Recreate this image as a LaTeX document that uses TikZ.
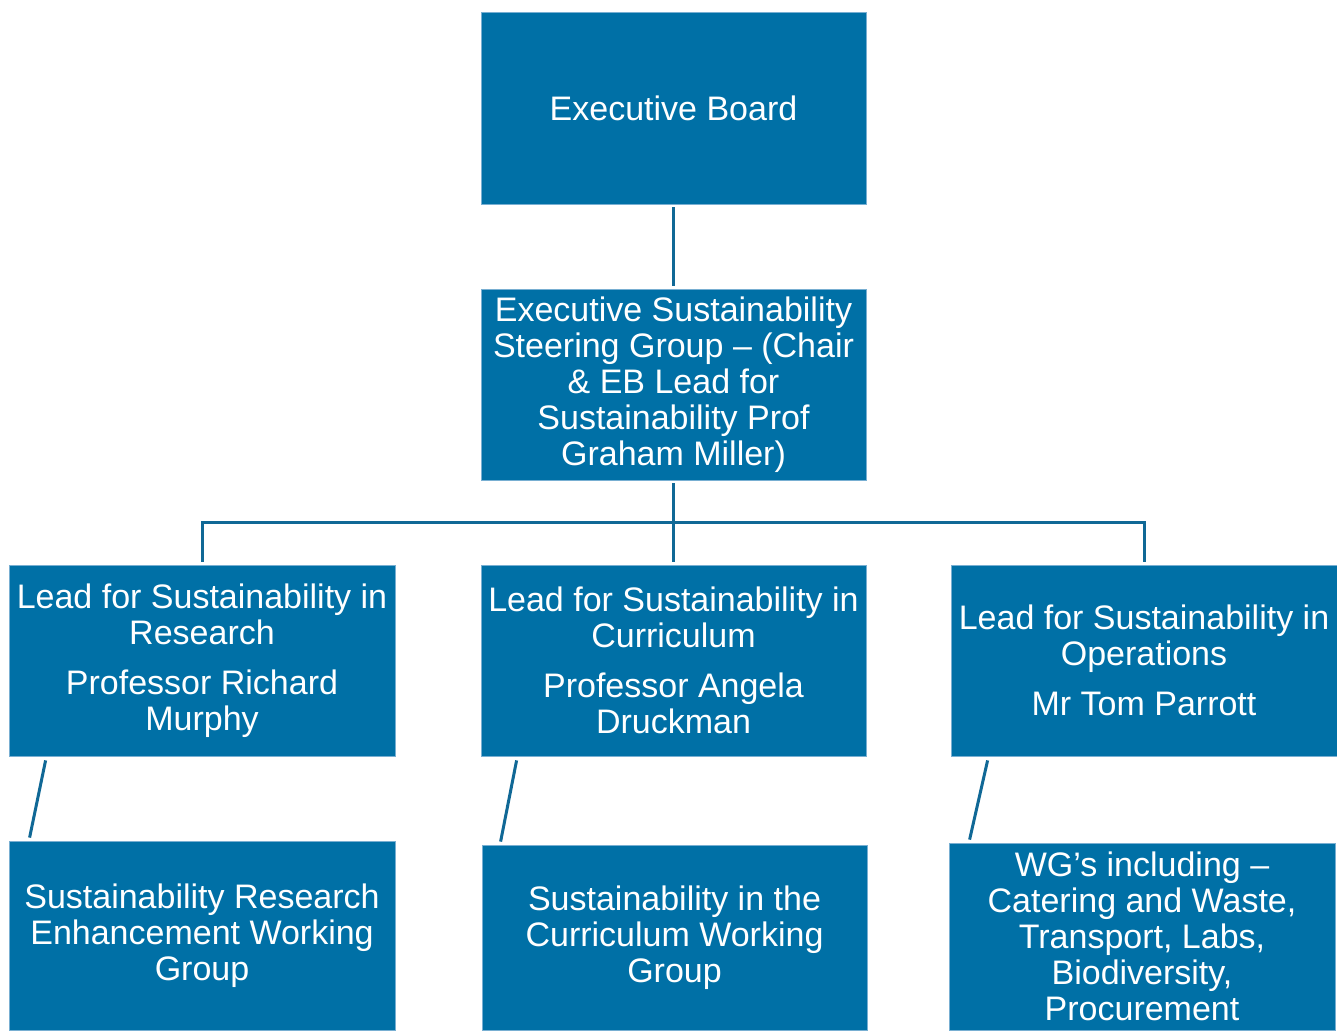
\documentclass[tikz,border=0pt]{standalone}
\usepackage{fontspec}
\setmainfont{Liberation Sans}
\definecolor{boxblue}{RGB}{0,112,166}
\definecolor{edgeblue}{RGB}{120,175,210}
\definecolor{lineblue}{RGB}{16,104,150}
\begin{document}
\begin{tikzpicture}[x=1pt,y=-1pt,
  orgbox/.style={draw=edgeblue,line width=0.8pt,fill=boxblue,text=white,inner sep=0pt,
    align=center,font=\fontsize{34}{36}\selectfont},
  conn/.style={draw=lineblue,line width=3pt}]
\useasboundingbox (0,0) rectangle (1337,1030);
\fill[white] (0,0) rectangle (1337,1030);
\node[orgbox,minimum width=385pt,minimum height=192pt] (eb) at (673.5,108) {Executive Board};
\node[orgbox,minimum width=385pt,minimum height=191pt] (essg) at (673.5,384.5)
  {Executive Sustainability\\Steering Group -- (Chair\\\& EB Lead for\\Sustainability Prof\\Graham Miller)};
\node[orgbox,minimum width=386pt,minimum height=191pt] (leadR) at (202,660.5)
  {Lead for Sustainability in\\Research\\[14pt]Professor Richard\\Murphy};
\node[orgbox,minimum width=385pt,minimum height=191pt] (leadC) at (673.5,660.5)
  {Lead for Sustainability in\\Curriculum\\[14pt]Professor Angela\\Druckman};
\node[orgbox,minimum width=386pt,minimum height=191pt] (leadO) at (1144,660.5)
  {Lead for Sustainability in\\Operations\\[14pt]Mr Tom Parrott};
\node[orgbox,minimum width=386pt,minimum height=189pt] (wgR) at (202,935.5)
  {Sustainability Research\\Enhancement Working\\Group};
\node[orgbox,minimum width=385pt,minimum height=185pt] (wgC) at (674.5,937.5)
  {Sustainability in the\\Curriculum Working\\Group};
\node[orgbox,minimum width=386pt,minimum height=187pt] (wgO) at (1142,936.5)
  {WG’s including --\\Catering and Waste,\\Transport, Labs,\\Biodiversity,\\Procurement};
\coordinate (bus) at (673.5,522);
\draw[conn] ([yshift=-3pt]eb.south) -- ([yshift=3pt]essg.north);
\draw[conn] ([yshift=-3pt]essg.south) -- ([yshift=3pt]leadC.north);
\draw[conn] ([yshift=3pt]leadR.north) |- (bus) -| ([yshift=3pt]leadO.north);
\draw[conn] ([xshift=37pt,yshift=-4pt]leadR.south west) -- ([xshift=21pt,yshift=3pt]wgR.north west);
\draw[conn] ([xshift=36pt,yshift=-4pt]leadC.south west) -- ([xshift=19pt,yshift=3pt]wgC.north west);
\draw[conn] ([xshift=37pt,yshift=-4pt]leadO.south west) -- ([xshift=21pt,yshift=3pt]wgO.north west);
\end{tikzpicture}
\end{document}
